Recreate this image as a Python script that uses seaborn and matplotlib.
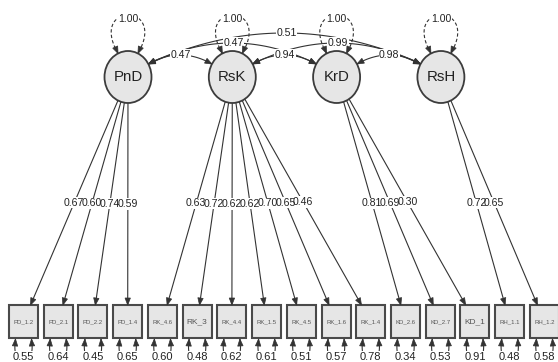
import numpy as np
import pandas as pd
import matplotlib
matplotlib.use('Agg')
import matplotlib.pyplot as plt
from matplotlib.patches import Ellipse, Rectangle, Polygon
import seaborn as sns

# ---- data ----
latents = ['PnD', 'RsK', 'KrD', 'RsH']
latent_var = [1.00, 1.00, 1.00, 1.00]

pnd_items = ['PD_1.2', 'PD_2.1', 'PD_2.2', 'PD_1.4']
pnd_loadings = [0.67, 0.60, 0.74, 0.59]
rsk_items = ['RK_4.6', 'RK_3', 'RK_4.4', 'RK_1.5', 'RK_4.5', 'RK_1.6', 'RK_1.4']
rsk_loadings = [0.63, 0.72, 0.62, 0.62, 0.70, 0.65, 0.46]
krd_items = ['KD_2.6', 'KD_2.7', 'KD_1']
krd_loadings = [0.81, 0.69, 0.30]
rsh_items = ['RH_1.1', 'RH_1.2']
rsh_loadings = [0.72, 0.65]

residuals = [0.55, 0.64, 0.45, 0.65, 0.60, 0.48, 0.62, 0.61, 0.51, 0.57,
             0.78, 0.34, 0.53, 0.91, 0.48, 0.58]

cov_from = ['PnD', 'RsK', 'KrD', 'PnD', 'RsK', 'PnD']
cov_to = ['RsK', 'KrD', 'RsH', 'KrD', 'RsH', 'RsH']
cov_vals = [0.47, 0.94, 0.98, 0.47, 0.99, 0.51]

# ---- layout (pixels) ----
W, H = 558, 362
LAT_X0, LAT_DX, LAT_Y = 128, 104.3, 77
RX, RY = 23.5, 26
BOX_X0, BOX_DX, BOX_Y = 23.5, 34.73, 321.5
BW, BH = 29, 33

LINE = '#333333'
FILL = '#e6e6e6'
FONT = ['Liberation Sans', 'DejaVu Sans']

sns.set_theme(style='white')
plt.rcParams['font.family'] = FONT

fig = plt.figure(figsize=(W / 100, H / 100), dpi=100)
ax = fig.add_axes([0, 0, 1, 1])

lat_pos = {name: np.array([LAT_X0 + i * LAT_DX, LAT_Y]) for i, name in enumerate(latents)}

groups = [('PnD', pnd_items, pnd_loadings), ('RsK', rsk_items, rsk_loadings),
          ('KrD', krd_items, krd_loadings), ('RsH', rsh_items, rsh_loadings)]


def ell_pt(c, ang_deg):
    a = np.radians(ang_deg)
    return np.array([c[0] + RX * np.cos(a), c[1] - RY * np.sin(a)])


def ell_clip(c, target):
    d = target - c
    t = 1.0 / np.sqrt((d[0] / RX) ** 2 + (d[1] / RY) ** 2)
    return c + d * t


def head(tip, frm, L=7.0, hw=2.7, z=5):
    d = tip - frm
    d = d / np.linalg.norm(d)
    base = tip - d * L
    p = np.array([-d[1], d[0]])
    ax.add_patch(Polygon([tip, base + p * hw, base - p * hw], closed=True,
                         fc=LINE, ec=LINE, lw=0.5, zorder=z))


def label(x, y, s, size=7.6):
    # background first, so overlapping labels look like the reference
    ax.text(x, y, s, fontsize=size, color=(0, 0, 0, 0), ha='center', va='center',
            bbox=dict(fc='white', ec='none', pad=0.4), zorder=3)
    ax.text(x, y, s, fontsize=size, color='#222222', ha='center', va='center', zorder=4)


def bez(pts, n=60):
    t = np.linspace(0, 1, n)[:, None]
    if len(pts) == 3:
        p0, p1, p2 = pts
        return (1 - t) ** 2 * p0 + 2 * (1 - t) * t * p1 + t ** 2 * p2
    p0, p1, p2, p3 = pts
    return ((1 - t) ** 3 * p0 + 3 * (1 - t) ** 2 * t * p1
            + 3 * (1 - t) * t ** 2 * p2 + t ** 3 * p3)


# ---- loadings ----
rows = []
labels_to_draw = []
tips = []
k = 0
for lat, items, loads in groups:
    c = lat_pos[lat]
    for item, val in zip(items, loads):
        bc = np.array([BOX_X0 + k * BOX_DX, BOX_Y])
        d = bc - c
        ty = BOX_Y - BH / 2
        end = c + d * ((ty - c[1]) / d[1])
        start = ell_clip(c, bc)
        rows += [dict(edge=k, x=start[0], y=start[1]), dict(edge=k, x=end[0], y=end[1])]
        mid = (start + end) / 2
        labels_to_draw.append((mid[0], mid[1], f'{val:.2f}'))
        tips.append((end, start))
        k += 1

df = pd.DataFrame(rows)
sns.lineplot(data=df, x='x', y='y', units='edge', estimator=None, sort=False,
             color=LINE, lw=0.8, legend=False, ax=ax, zorder=1)
for end, start in tips:
    head(end, start)
for x, y, s in labels_to_draw:
    label(x, y, s)

# ---- boxes + residuals ----
all_items = pnd_items + rsk_items + krd_items + rsh_items
for j, (item, res) in enumerate(zip(all_items, residuals)):
    x = BOX_X0 + j * BOX_DX
    ax.add_patch(Rectangle((x - BW / 2, BOX_Y - BH / 2), BW, BH, fc=FILL,
                           ec='#4a4a4a', lw=1.5, zorder=2))
    fs = 6.0 if len(item) <= 4 else 4.3
    ax.text(x, BOX_Y, item, fontsize=fs, color='#555555', ha='center',
            va='center', zorder=4)
    yb = BOX_Y + BH / 2 + 1
    pts = [np.array([x - 8, yb]), np.array([x - 13, yb + 32]),
           np.array([x + 13, yb + 32]), np.array([x + 8, yb])]
    cur = bez(pts)
    ax.plot(cur[:, 0], cur[:, 1], color=LINE, lw=0.8, zorder=1)
    head(pts[0], cur[6])
    head(pts[3], cur[-7])
    label(x, 357, f'{res:.2f}', size=8)

# ---- latent variances (dashed loops) ----
for lat, v in zip(latents, latent_var):
    c = lat_pos[lat]
    p0 = ell_pt(c, 115)
    p3 = ell_pt(c, 65)
    pts = [p0, np.array([c[0] - 40, 2]), np.array([c[0] + 40, 2]), p3]
    cur = bez(pts)
    ax.plot(cur[:, 0], cur[:, 1], color=LINE, lw=0.8, ls=(0, (3, 2)), zorder=1)
    head(p0, cur[5])
    head(p3, cur[-6])
    label(c[0], 19, f'{v:.2f}')

# ---- covariances ----
peaks = {1: 55, 2: 43, 3: 33}
for a, b, v in zip(cov_from, cov_to, cov_vals):
    ca, cb = lat_pos[a], lat_pos[b]
    gap = latents.index(b) - latents.index(a)
    p0 = ell_pt(ca, 30)
    p2 = ell_pt(cb, 150)
    yc = 2 * peaks[gap] - (p0[1] + p2[1]) / 2
    p1 = np.array([(p0[0] + p2[0]) / 2, yc])
    cur = bez([p0, p1, p2])
    ax.plot(cur[:, 0], cur[:, 1], color=LINE, lw=0.8, zorder=1)
    head(p0, cur[4])
    head(p2, cur[-5])
    label(cur[30, 0], cur[30, 1], f'{v:.2f}')

# ---- latent nodes ----
for lat in latents:
    c = lat_pos[lat]
    ax.add_patch(Ellipse(c, 2 * RX, 2 * RY, fc=FILL, ec='#3c3c3c', lw=1.3, zorder=2))
    ax.text(c[0], c[1], lat, fontsize=10.8, color='#222222', ha='center',
            va='center', zorder=4)

ax.set_xlim(0, W)
ax.set_ylim(H, 0)
ax.axis('off')
fig.savefig('out.png', dpi=100, facecolor='white')
